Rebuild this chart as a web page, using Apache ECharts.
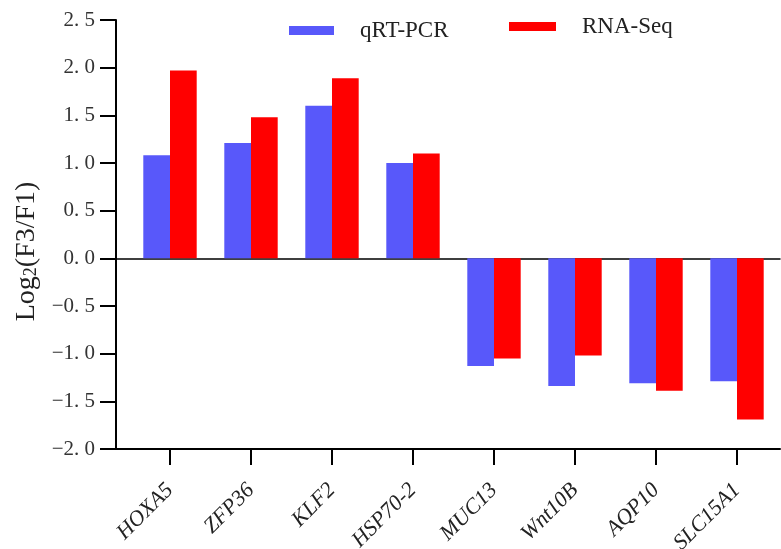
<!DOCTYPE html>
<html>
<head>
<meta charset="utf-8">
<script src="https://cdn.jsdelivr.net/npm/echarts@6/dist/echarts.min.js"></script>
<style>html,body{margin:0;padding:0;background:#fff}#c{width:781px;height:549px}</style>
</head>
<body>
<div id="c"></div>
<script>
var genes = ['HOXA5', 'ZFP36', 'KLF2', 'HSP70-2', 'MUC13', 'Wnt10B', 'AQP10', 'SLC15A1'];
var qrtPcr = [1.08, 1.21, 1.60, 1.00, -1.13, -1.34, -1.31, -1.29];
var rnaSeq = [1.97, 1.48, 1.89, 1.10, -1.05, -1.02, -1.39, -1.69];
var yTicks = [-2.0, -1.5, -1.0, -0.5, 0.0, 0.5, 1.0, 1.5, 2.0, 2.5];

var FONT = '"Liberation Serif", "DejaVu Serif", serif';
var chart = echarts.init(document.getElementById('c'));

function fmt(v) {
  var s = Math.abs(v).toFixed(1).replace('.', '. ');
  return (v < 0 ? '\u2212' : '') + s;
}

var hidden = { show: false };
chart.setOption({
  animation: false,
  grid: [
    { left: 116, right: 1, top: 20, bottom: 100, containLabel: false, outerBoundsMode: 'none' },
    { left: 129.5, right: 3.5, top: 20, bottom: 100, containLabel: false, outerBoundsMode: 'none' }
  ],
  legend: [
    { data: ['qRT-PCR'], left: 289, top: 19, padding: 0, icon: 'rect', itemWidth: 45, itemHeight: 9,
      textStyle: { fontFamily: FONT, fontSize: 23, color: '#222', padding: [3, 0, 0, 21] } },
    { data: ['RNA-Seq'], left: 509, top: 15, padding: 0, icon: 'rect', itemWidth: 47, itemHeight: 9,
      textStyle: { fontFamily: FONT, fontSize: 23, color: '#222', padding: [2, 0, 0, 21] } }
  ],
  xAxis: [
    { gridIndex: 0, type: 'value', min: 0, max: 1, position: 'bottom',
      axisLine: { onZero: false, lineStyle: { color: '#000', width: 2 } },
      axisTick: hidden, axisLabel: hidden, splitLine: hidden },
    { gridIndex: 0, type: 'value', min: 0, max: 1,
      axisLine: { onZero: true, lineStyle: { color: '#000', width: 1.5 } },
      axisTick: hidden, axisLabel: hidden, splitLine: hidden },
    { gridIndex: 1, type: 'category', data: genes, position: 'bottom',
      axisLine: { show: false, onZero: false },
      axisTick: { show: true, alignWithLabel: true, length: 16, lineStyle: { color: '#000', width: 2 } },
      axisLabel: { rotate: 45, margin: 38, fontFamily: FONT, fontStyle: 'italic', fontSize: 22, color: '#222', interval: 0 },
      splitLine: hidden }
  ],
  yAxis: [
    { gridIndex: 0, type: 'value', min: -2, max: 2.5, interval: 0.5,
      axisLine: { show: true, onZero: false, lineStyle: { color: '#000', width: 2 } },
      axisTick: { show: true, length: 16, lineStyle: { color: '#000', width: 2 } },
      axisLabel: { margin: 21, fontFamily: FONT, fontSize: 21, color: '#333', formatter: fmt },
      splitLine: hidden,
      name: 'Log{sub|2}(F3/F1)', nameLocation: 'middle', nameGap: 62, nameRotate: 90,
      nameTextStyle: { fontFamily: FONT, fontSize: 28, color: '#222', padding: [0, 34, 0, 0],
        rich: { sub: { fontFamily: FONT, fontSize: 18, color: '#222', verticalAlign: 'bottom', padding: [11, 0, 0, 0] } } } },
    { gridIndex: 1, type: 'value', min: -2, max: 2.5, interval: 0.5, show: false }
  ],
  series: [
    { name: 'qRT-PCR', type: 'bar', xAxisIndex: 2, yAxisIndex: 1, data: qrtPcr,
      barWidth: 26.7, barGap: '0%', itemStyle: { color: '#5858fa' } },
    { name: 'RNA-Seq', type: 'bar', xAxisIndex: 2, yAxisIndex: 1, data: rnaSeq,
      barWidth: 26.7, barGap: '0%', itemStyle: { color: '#ff0000' } }
  ]
});
</script>
</body>
</html>
